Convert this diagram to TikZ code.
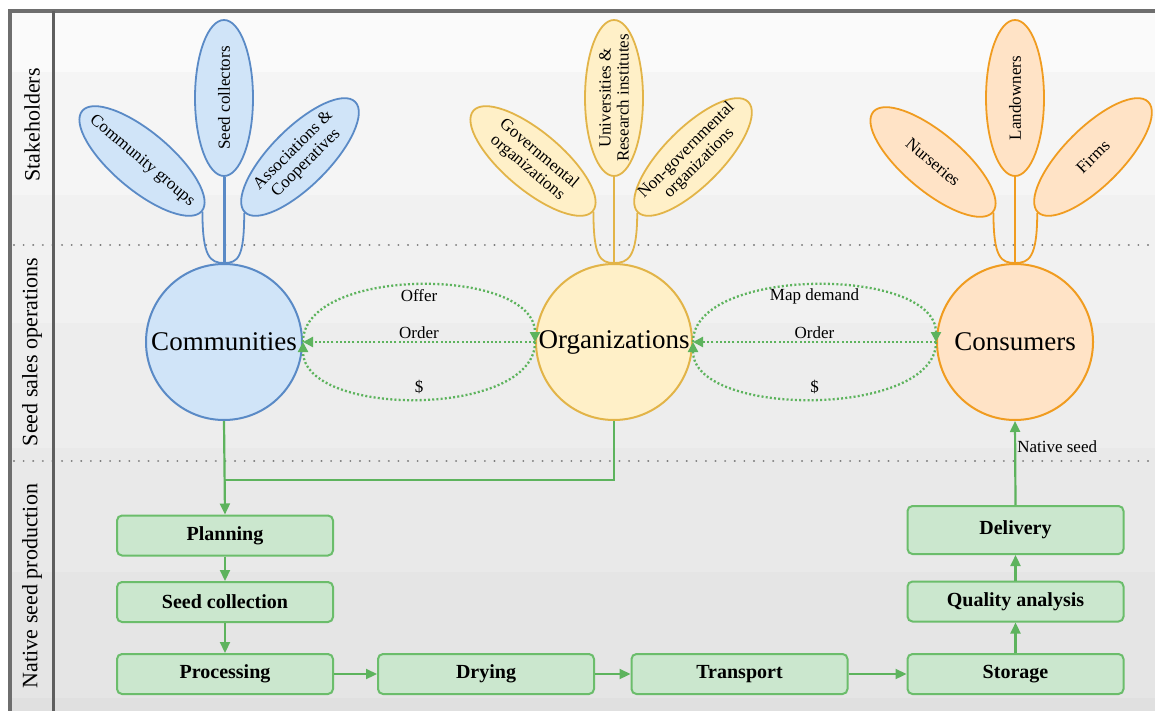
\documentclass[tikz,border=0pt]{standalone}
\usepackage{fontspec}
\setmainfont{Liberation Serif}
\usetikzlibrary{arrows.meta,shapes.geometric,calc}
\definecolor{bandA}{HTML}{FAFAFA}
\definecolor{bandB}{HTML}{F5F5F5}
\definecolor{bandC}{HTML}{F1F1F1}
\definecolor{bandD}{HTML}{EDEDED}
\definecolor{bandE}{HTML}{E9E9E9}
\definecolor{bandF}{HTML}{E5E5E5}
\definecolor{bandG}{HTML}{E0E0E0}
\definecolor{frame}{HTML}{6E6E6E}
\definecolor{blueF}{HTML}{D0E4F8}
\definecolor{blueD}{HTML}{5A8AC6}
\definecolor{yelF}{HTML}{FFF0C8}
\definecolor{yelD}{HTML}{E2B448}
\definecolor{oraF}{HTML}{FFE3C6}
\definecolor{oraD}{HTML}{F09C20}
\definecolor{grnF}{HTML}{CBE7CE}
\definecolor{grnD}{HTML}{6BBD6B}
\definecolor{grnA}{HTML}{5DB35D}
\begin{document}
\begin{tikzpicture}[x=1pt,y=-1pt,
  leaf/.style={ellipse,minimum width=156,minimum height=58,inner sep=0,line width=1.8},
  leaftext/.style={inner sep=0,align=center,font=\fontsize{17}{18}\selectfont},
  bleaf/.style={leaf,draw=blueD,fill=blueF},
  yleaf/.style={leaf,draw=yelD,fill=yelF},
  oleaf/.style={leaf,draw=oraD,fill=oraF},
  hub/.style={circle,minimum size=156,inner sep=0,line width=2},
  hubtext/.style={font=\fontsize{27}{30}\selectfont,inner sep=0},
  stem/.style={line width=1.8},
  mainstem/.style={line width=3},
  stepbox/.style={rectangle,rounded corners=5,draw=grnD,fill=grnF,line width=2,minimum width=216,minimum height=40,font=\bfseries\fontsize{20}{22}\selectfont},
  flow/.style={draw=grnA,line width=2.2,-{Triangle[length=11pt,width=10pt]}},
  plainflow/.style={draw=grnA,line width=2.2},
  dotflow/.style={draw=grnA,line width=2.3,dash pattern=on 2pt off 2.2pt,-{Triangle[length=10pt,width=10pt]}},
  lbl/.style={font=\fontsize{17}{19}\selectfont,inner sep=2},
  lane/.style={rotate=90,font=\fontsize{22}{24}\selectfont},
  sep/.style={draw=frame!90,line width=2.2,line cap=round,dash pattern=on 0.01pt off 9.6pt}
]
\useasboundingbox (0,0) rectangle (1155,711);
% background bands
\fill[white] (0,0) rectangle (1155,711);
\fill[bandA] (10,10) rectangle (1155,72);
\fill[bandB] (10,72) rectangle (1155,195);
\fill[bandC] (10,195) rectangle (1155,323);
\fill[bandD] (10,323) rectangle (1155,448);
\fill[bandE] (10,448) rectangle (1155,572);
\fill[bandF] (10,572) rectangle (1155,698);
\fill[bandG] (10,698) rectangle (1155,711);
% separators
\draw[sep] (14,245) -- (1155,245);
\draw[sep] (14,461) -- (1155,461);
% frame
\draw[frame,line width=3.5] (10,711) -- (10,11) -- (1155,11);
\draw[frame!85!black,line width=3] (53.5,11) -- (53.5,711);
% lane labels
\node[lane] (l1) at (32,125) {Stakeholders};
\node[lane] (l2) at (32,352) {Seed sales operations};
\node[lane] (l3) at (32,586) {Native seed production};

% hubs
\node[hub,draw=blueD,fill=blueF] (comm) at (224,342) {};
\node[hubtext] (commt) at (comm) {Communities};
\node[hub,draw=yelD,fill=yelF] (org) at (614,342) {};
\node[hubtext] (orgt) at (org) {Organizations};
\node[hub,draw=oraD,fill=oraF] (cons) at (1015,342) {};
\node[hubtext] (const) at (cons) {Consumers};

% community leaves
\node[bleaf,rotate=-40] (cg) at (142,161) {};
\node[leaftext,rotate=-40] (cgt) at (cg) {Community groups};
\node[bleaf,rotate=90] (sc) at (224,98) {};
\node[leaftext,rotate=90] (sct) at (sc) {Seed collectors};
\node[bleaf,rotate=45] (ac) at (300,157) {};
\node[leaftext,rotate=45] (act) at (ac) {Associations \&\\Cooperatives};
\draw[stem,blueD] (cg.east) .. controls +(0,45) and +(-14,0) .. (comm.north);
\draw[stem,blueD] (ac.west) .. controls +(0,45) and +(14,0) .. (comm.north);
\draw[mainstem,blueD] (sc.west) -- (comm.north);

% organization leaves
\node[yleaf,rotate=-40] (go) at (533,161) {};
\node[leaftext,rotate=-40] (got) at (go) {Governmental\\organizations};
\node[yleaf,rotate=90] (ur) at (614,98) {};
\node[leaftext,rotate=90] (urt) at (ur) {Universities \&\\Research institutes};
\node[yleaf,rotate=45] (ng) at (693,157) {};
\node[leaftext,rotate=45] (ngt) at (ng) {Non-governmental\\organizations};
\draw[stem,yelD] (go.east) .. controls +(0,45) and +(-14,0) .. (org.north);
\draw[stem,yelD] (ng.west) .. controls +(0,45) and +(14,0) .. (org.north);
\draw[stem,yelD] (ur.west) -- (org.north);

% consumer leaves
\node[oleaf,rotate=-40] (nu) at (933,162) {};
\node[leaftext,rotate=-40] (nut) at (nu) {Nurseries};
\node[oleaf,rotate=90] (lo) at (1015,98) {};
\node[leaftext,rotate=90] (lot) at (lo) {Landowners};
\node[oleaf,rotate=45] (fi) at (1093,157) {};
\node[leaftext,rotate=45] (fit) at (fi) {Firms};
\draw[stem,oraD] (nu.east) .. controls +(0,45) and +(-14,0) .. (cons.north);
\draw[stem,oraD] (fi.west) .. controls +(0,45) and +(14,0) .. (cons.north);
\draw[stem,oraD] (lo.west) -- (cons.north);

% exchanges communities <-> organizations
\draw[dotflow] (comm.east) .. controls +(0,-76) and +(0,-76) .. (org.west) node[lbl,midway,below=1] (t1) {Offer};
\draw[dotflow] (org.west) -- (comm.east) node[lbl,midway,above] (t2) {Order};
\draw[dotflow] (org.west) .. controls +(0,76) and +(0,76) .. (comm.east) node[lbl,midway,above=2] (t3) {\$};
% exchanges organizations <-> consumers
\draw[dotflow] (org.east) .. controls +(0,-76) and +(0,-76) .. (cons.west) node[lbl,midway,below=1] (t4) {Map demand};
\draw[dotflow] (cons.west) -- (org.east) node[lbl,midway,above] (t5) {Order};
\draw[dotflow] (cons.west) .. controls +(0,76) and +(0,76) .. (org.east) node[lbl,midway,above=2] (t6) {\$};

% production steps
\node[stepbox] (plan) at (225,535.5) {Planning};
\node[stepbox] (seed) at (225,602) {Seed collection};
\node[stepbox] (proc) at (225,674) {Processing};
\node[stepbox] (dry) at (486,674) {Drying};
\node[stepbox] (trans) at (739.5,674) {Transport};
\node[stepbox] (stor) at (1015.5,674) {Storage};
\node[stepbox] (qual) at (1015.5,601.5) {Quality analysis};
\node[stepbox,minimum height=48] (deliv) at (1015.5,530) {Delivery};

\coordinate (join) at (comm.south |- 0,480);
\draw[plainflow] (org.south) |- (join);
\draw[flow] (comm.south) -- (plan.north);
\draw[flow] (plan.south) -- (seed.north);
\draw[flow] (seed.south) -- (proc.north);
\draw[flow] (proc.east) -- (dry.west);
\draw[flow] (dry.east) -- (trans.west);
\draw[flow] (trans.east) -- (stor.west);
\draw[flow] (stor.north) -- (qual.south);
\draw[flow] (qual.north) -- (deliv.south);
\draw[flow] (deliv.north) -- (cons.south) node[lbl,pos=0.69,anchor=west,inner sep=1] (ns) {Native seed};
\end{tikzpicture}
\end{document}
